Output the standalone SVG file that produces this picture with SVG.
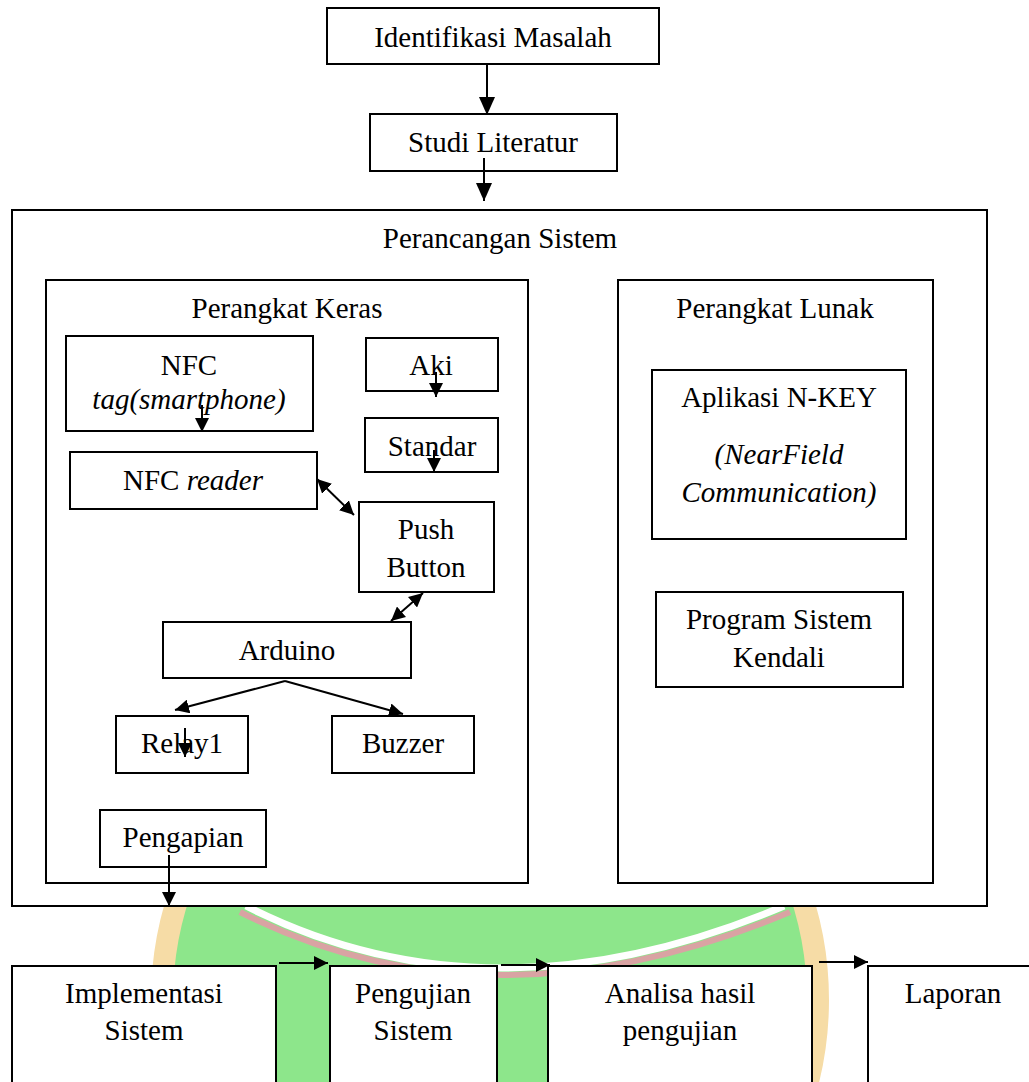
<svg xmlns="http://www.w3.org/2000/svg" width="1029" height="1082" viewBox="0 0 1029 1082">
<style>
.box{fill:#fff;stroke:#000;stroke-width:2}
.t{font-family:"Liberation Serif","Times New Roman",serif;font-size:29px;fill:#000;text-anchor:middle}
.i{font-style:italic}
.c{stroke:#000;stroke-width:2;fill:none}
</style>
<defs>
<marker id="ah" viewBox="0 0 14 14" refX="14" refY="7" markerWidth="14" markerHeight="14" markerUnits="userSpaceOnUse" orient="auto-start-reverse"><path d="M0,0 L14,7 L0,14 z" fill="#000"/></marker>
<marker id="ahb" viewBox="0 0 18 16" refX="18" refY="8" markerWidth="18" markerHeight="16" markerUnits="userSpaceOnUse" orient="auto-start-reverse"><path d="M0,0 L18,8 L0,16 z" fill="#000"/></marker>
</defs>
<rect width="1029" height="1082" fill="#fff"/>
<g id="watermark">
<ellipse cx="490" cy="1000" rx="328" ry="332" fill="#8de68b" stroke="#f6dca6" stroke-width="22"/>
<path d="M240,912 Q490,1038 790,912" fill="none" stroke="#d9a3a3" stroke-width="6"/>
<path d="M246,906 Q490,1030 784,906" fill="none" stroke="#fff" stroke-width="7"/>
</g>
<g id="perancangan"><rect class="box" x="12" y="210" width="975" height="696"/><text class="t" x="500" y="248">Perancangan Sistem</text></g>
<g id="keras"><rect class="box" x="46" y="280" width="482" height="603"/><text class="t" x="287" y="318">Perangkat Keras</text></g>
<g id="lunak"><rect class="box" x="618" y="280" width="315" height="603"/><text class="t" x="775" y="318">Perangkat Lunak</text></g>
<g id="identifikasi"><rect class="box" x="327" y="8" width="332" height="56"/><text class="t" x="493" y="47">Identifikasi Masalah</text></g>
<g id="studi"><rect class="box" x="370" y="114" width="247" height="57"/><text class="t" x="493" y="152">Studi Literatur</text></g>
<g id="nfctag"><rect class="box" x="66" y="336" width="247" height="95"/><text class="t" x="189" y="375">NFC</text><text class="t i" x="189" y="409">tag(smartphone)</text></g>
<g id="aki"><rect class="box" x="366" y="338" width="132" height="53"/><text class="t" x="431" y="375">Aki</text></g>
<g id="standar"><rect class="box" x="365" y="418" width="133" height="54"/><text class="t" x="432" y="456">Standar</text></g>
<g id="nfcreader"><rect class="box" x="70" y="452" width="247" height="57"/><text class="t" x="193" y="490">NFC <tspan class="i">reader</tspan></text></g>
<g id="push"><rect class="box" x="359" y="502" width="135" height="90"/><text class="t" x="426" y="539">Push</text><text class="t" x="426" y="577">Button</text></g>
<g id="arduino"><rect class="box" x="163" y="622" width="248" height="56"/><text class="t" x="287" y="660">Arduino</text></g>
<g id="relay"><rect class="box" x="116" y="716" width="132" height="57"/><text class="t" x="182" y="753">Relay1</text></g>
<g id="buzzer"><rect class="box" x="332" y="716" width="142" height="57"/><text class="t" x="403" y="753">Buzzer</text></g>
<g id="pengapian"><rect class="box" x="100" y="810" width="166" height="57"/><text class="t" x="183" y="847">Pengapian</text></g>
<g id="aplikasi"><rect class="box" x="652" y="370" width="254" height="169"/><text class="t" x="779" y="407">Aplikasi N-KEY</text><text class="t i" x="779" y="464">(NearField</text><text class="t i" x="779" y="502">Communication)</text></g>
<g id="program"><rect class="box" x="656" y="592" width="247" height="95"/><text class="t" x="779" y="629">Program Sistem</text><text class="t" x="779" y="667">Kendali</text></g>
<g id="implementasi"><rect class="box" x="12" y="966" width="264" height="140"/><text class="t" x="144" y="1003">Implementasi</text><text class="t" x="144" y="1040">Sistem</text></g>
<g id="pengujian"><rect class="box" x="330" y="966" width="167" height="140"/><text class="t" x="413" y="1003">Pengujian</text><text class="t" x="413" y="1040">Sistem</text></g>
<g id="analisa"><rect class="box" x="548" y="966" width="264" height="140"/><text class="t" x="680" y="1003">Analisa hasil</text><text class="t" x="680" y="1040">pengujian</text></g>
<g id="laporan"><rect class="box" x="868" y="966" width="172" height="140"/><text class="t" x="953" y="1003">Laporan</text></g>
<g id="connectors">
<line class="c" x1="487" y1="64" x2="487" y2="115" marker-end="url(#ahb)"/>
<line class="c" x1="484" y1="158" x2="484" y2="201" marker-end="url(#ahb)"/>
<line class="c" x1="202" y1="405" x2="202" y2="432" marker-end="url(#ah)"/>
<line class="c" x1="436" y1="372" x2="436" y2="397" marker-end="url(#ah)"/>
<line class="c" x1="434" y1="450" x2="434" y2="472" marker-end="url(#ah)"/>
<line class="c" x1="317" y1="479" x2="354" y2="515" marker-start="url(#ah)" marker-end="url(#ah)"/>
<line class="c" x1="423" y1="593" x2="391" y2="621" marker-start="url(#ah)" marker-end="url(#ah)"/>
<line class="c" x1="285" y1="681" x2="175" y2="710" marker-end="url(#ah)"/>
<line class="c" x1="285" y1="681" x2="403" y2="714" marker-end="url(#ah)"/>
<line class="c" x1="185" y1="728" x2="185" y2="757" marker-end="url(#ah)"/>
<line class="c" x1="169" y1="855" x2="169" y2="906" marker-end="url(#ah)"/>
<line class="c" x1="279" y1="963" x2="328" y2="963" marker-end="url(#ah)"/>
<line class="c" x1="501" y1="965" x2="550" y2="965" marker-end="url(#ah)"/>
<line class="c" x1="819" y1="962" x2="868" y2="962" marker-end="url(#ah)"/>
</g>
</svg>
